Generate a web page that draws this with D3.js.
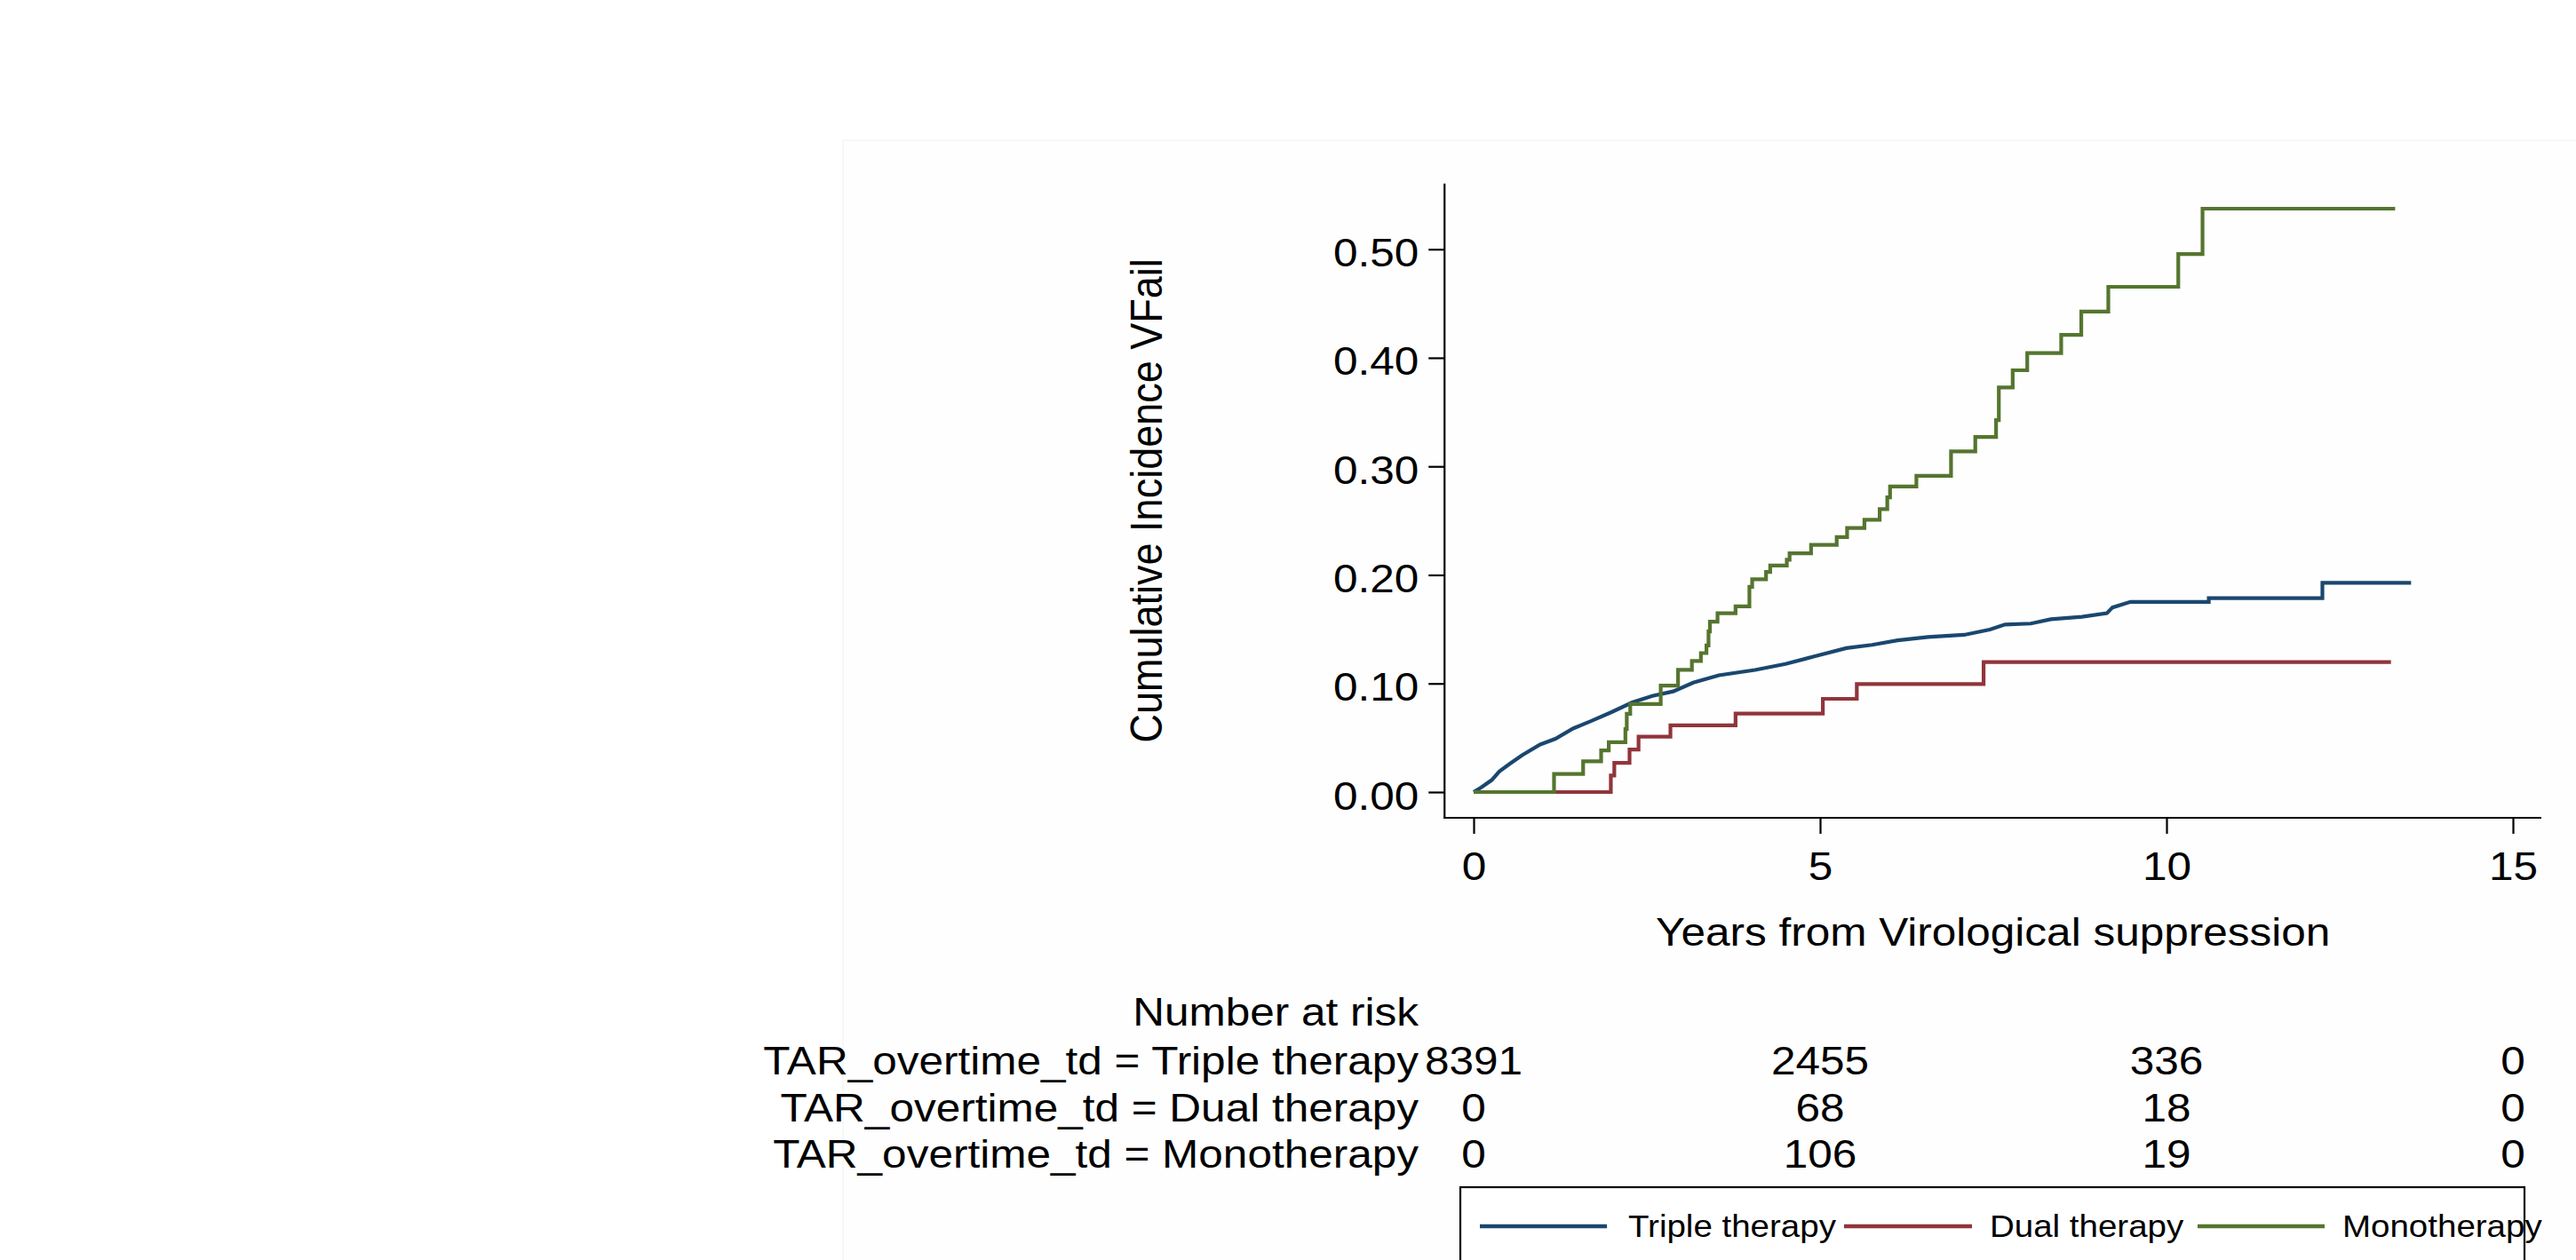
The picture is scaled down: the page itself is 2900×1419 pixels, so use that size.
<!DOCTYPE html>
<html>
<head>
<meta charset="utf-8">
<script src="https://cdn.jsdelivr.net/npm/d3@7"></script>
<style>
  html, body { margin: 0; padding: 0; background: #ffffff; }
  svg { display: block; }
  text { font-family: "Liberation Sans", Arial, Helvetica, sans-serif; fill: #000; }
</style>
</head>
<body>
<svg id="chart" width="2900" height="1419"></svg>
<script>
// ---------------- DATA ----------------
const xTicks = [0, 5, 10, 15];
const yTicks = [0, 0.1, 0.2, 0.3, 0.4, 0.5];

const seriesNames = ["Triple therapy", "Dual therapy", "Monotherapy"];
const seriesColors = ["#1a476f", "#90353b", "#55752f"];

// Triple therapy: near-continuous cumulative incidence
const tripleData = [
  [0, 0], [0.11, 0.0043], [0.26, 0.011], [0.37, 0.019], [0.52, 0.026], [0.70, 0.034],
  [0.96, 0.0438], [1.18, 0.049], [1.44, 0.0587], [1.70, 0.0655], [1.99, 0.0736],
  [2.29, 0.0826], [2.58, 0.0886], [2.88, 0.0927], [3.17, 0.1008], [3.54, 0.1076],
  [4.06, 0.1125], [4.50, 0.118], [4.94, 0.1253], [5.38, 0.1326], [5.75, 0.1356],
  [6.12, 0.1397], [6.56, 0.1429], [7.08, 0.1448], [7.45, 0.1497], [7.67, 0.1543],
  [8.04, 0.1552], [8.33, 0.1592], [8.78, 0.1614], [9.14, 0.1647], [9.22, 0.170],
  [9.48, 0.1752], [10.61, 0.1752], [10.61, 0.1786], [12.25, 0.1786], [12.25, 0.1928],
  [13.53, 0.1928]
];

// Dual therapy: step function (time, value after step)
const dualData = [
  [0, 0], [1.98, 0.0152], [2.03, 0.0269], [2.25, 0.0391], [2.38, 0.0511], [2.84, 0.0614],
  [3.78, 0.0723], [5.04, 0.0859], [5.53, 0.0995], [7.36, 0.1198], [13.24, 0.1198]
];

// Monotherapy: step function
const monoData = [
  [0, 0], [1.16, 0.0166], [1.58, 0.0284], [1.84, 0.0383], [1.95, 0.0459], [2.19, 0.058],
  [2.21, 0.072], [2.26, 0.081], [2.70, 0.0981], [2.95, 0.1125], [3.15, 0.1207],
  [3.28, 0.128], [3.36, 0.135], [3.39, 0.148], [3.41, 0.157], [3.52, 0.1647],
  [3.78, 0.171], [3.98, 0.189], [4.02, 0.196], [4.22, 0.2027], [4.28, 0.2087],
  [4.52, 0.214], [4.56, 0.220], [4.87, 0.2277], [5.24, 0.2348], [5.39, 0.2432],
  [5.64, 0.2508], [5.86, 0.2606], [5.97, 0.2715], [6.01, 0.2815], [6.39, 0.2913],
  [6.89, 0.3137], [7.24, 0.3271], [7.54, 0.3426], [7.58, 0.3727], [7.78, 0.3885],
  [7.99, 0.4044], [8.48, 0.4211], [8.77, 0.4426], [9.16, 0.4654], [10.17, 0.4955],
  [10.52, 0.5374], [13.30, 0.5374]
];

// Number at risk table
const riskRowLabels = [
  "TAR_overtime_td = Triple therapy",
  "TAR_overtime_td = Dual therapy",
  "TAR_overtime_td = Monotherapy"
];
const riskTriple = [8391, 2455, 336, 0];
const riskDual = [0, 68, 18, 0];
const riskMono = [0, 106, 19, 0];

const xTitle = "Years from Virological suppression";
const yTitle = "Cumulative Incidence VFail";
const riskTitle = "Number at risk";

// ---------------- LAYOUT ----------------
const svg = d3.select("#chart");
const SX = 1.1;          // horizontal stretch of the lettering
const FS = 45;           // main font size
const LFS = 35;          // legend font size

const x = d3.scaleLinear().domain([0, 15]).range([1659, 2829]);
const y = d3.scaleLinear().domain([0, 0.5]).range([892, 280.7]);
const xExt = [-0.42, 15.41];
const yExt = [-0.0237, 0.5605];

// faint graph-region frame
svg.append("rect")
  .attr("x", 949).attr("y", 158).attr("width", 2100).attr("height", 1400)
  .attr("fill", "#fefefe").attr("stroke", "#f1f4f4").attr("stroke-width", 1.2);

// helper for stretched text
function stext(g, str, px, py, anchor, size, extra) {
  return g.append("text")
    .attr("transform", `translate(${px},${py}) scale(${SX},1)` + (extra || ""))
    .attr("text-anchor", anchor)
    .style("font-size", size + "px")
    .text(str);
}

// ---------------- AXES ----------------
const axisX0 = x(xExt[0]);   // y-axis position
const axisY0 = y(yExt[0]);   // x-axis position

const yAxis = d3.axisLeft(y).tickValues(yTicks).tickSize(18).tickFormat(d3.format(".2f"));
const gy = svg.append("g").attr("transform", `translate(${axisX0},0)`).call(yAxis);
gy.select(".domain").remove();
gy.selectAll(".tick line").attr("stroke", "#000").attr("stroke-width", 2.2);
gy.selectAll(".tick text")
  .attr("x", null).attr("dy", null)
  .attr("transform", `translate(-29,19) scale(${SX},1)`)
  .attr("text-anchor", "end")
  .style("font-size", FS + "px")
  .attr("font-family", null)
  .attr("fill", "#000");

const xAxis = d3.axisBottom(x).tickValues(xTicks).tickSize(18).tickFormat(d3.format("d"));
const gx = svg.append("g").attr("transform", `translate(0,${axisY0})`).call(xAxis);
gx.select(".domain").remove();
gx.selectAll(".tick line").attr("stroke", "#000").attr("stroke-width", 2.2);
gx.selectAll(".tick text")
  .attr("y", null).attr("dy", null)
  .attr("transform", `translate(0,70) scale(${SX},1)`)
  .attr("text-anchor", "middle")
  .style("font-size", FS + "px")
  .attr("font-family", null)
  .attr("fill", "#000");

// axis lines
svg.append("line")
  .attr("x1", axisX0).attr("x2", axisX0)
  .attr("y1", y(yExt[1])).attr("y2", axisY0 + 1)
  .attr("stroke", "#000").attr("stroke-width", 2.2);
svg.append("line")
  .attr("x1", axisX0 - 1).attr("x2", x(xExt[1]))
  .attr("y1", axisY0).attr("y2", axisY0)
  .attr("stroke", "#000").attr("stroke-width", 2.2);

// axis titles
stext(svg, xTitle, (x(xExt[0]) + x(xExt[1])) / 2, 1065, "middle", FS);
svg.append("text")
  .attr("transform", `translate(1308,${(y(yExt[0]) + y(yExt[1])) / 2}) scale(${SX},1) rotate(-90)`)
  .attr("text-anchor", "middle")
  .style("font-size", FS + "px")
  .text(yTitle);

// ---------------- CURVES ----------------
const lineLinear = d3.line().x(d => x(d[0])).y(d => y(d[1])).curve(d3.curveLinear);
const lineStep = d3.line().x(d => x(d[0])).y(d => y(d[1])).curve(d3.curveStepAfter);

const curves = [
  { data: tripleData, gen: lineLinear, color: seriesColors[0] },
  { data: dualData, gen: lineStep, color: seriesColors[1] },
  { data: monoData, gen: lineStep, color: seriesColors[2] }
];
svg.append("g").selectAll("path").data(curves).join("path")
  .attr("d", d => d.gen(d.data))
  .attr("fill", "none")
  .attr("stroke", d => d.color)
  .attr("stroke-width", 4.2)
  .attr("stroke-linejoin", "miter")
  .attr("stroke-linecap", "butt");

// ---------------- NUMBER AT RISK ----------------
const labelRight = 1597;
stext(svg, riskTitle, labelRight, 1155, "end", FS);
const riskRows = [riskTriple, riskDual, riskMono];
const rowBase = [1210, 1263, 1315];
riskRows.forEach((row, i) => {
  stext(svg, riskRowLabels[i], labelRight, rowBase[i], "end", FS);
  row.forEach((v, j) => {
    stext(svg, String(v), x(xTicks[j]), rowBase[i], "middle", FS);
  });
});

// ---------------- LEGEND ----------------
svg.append("rect")
  .attr("x", 1644).attr("y", 1337).attr("width", 1198).attr("height", 200)
  .attr("fill", "#fff").attr("stroke", "#000").attr("stroke-width", 2.2);
const legendItems = [
  { x1: 1666, x2: 1809, tx: 1833 },
  { x1: 2076, x2: 2220, tx: 2240 },
  { x1: 2474, x2: 2617, tx: 2637 }
];
legendItems.forEach((it, i) => {
  svg.append("line")
    .attr("x1", it.x1).attr("x2", it.x2).attr("y1", 1381).attr("y2", 1381)
    .attr("stroke", seriesColors[i]).attr("stroke-width", 4.5);
  stext(svg, seriesNames[i], it.tx, 1393, "start", LFS);
});
</script>
</body>
</html>
